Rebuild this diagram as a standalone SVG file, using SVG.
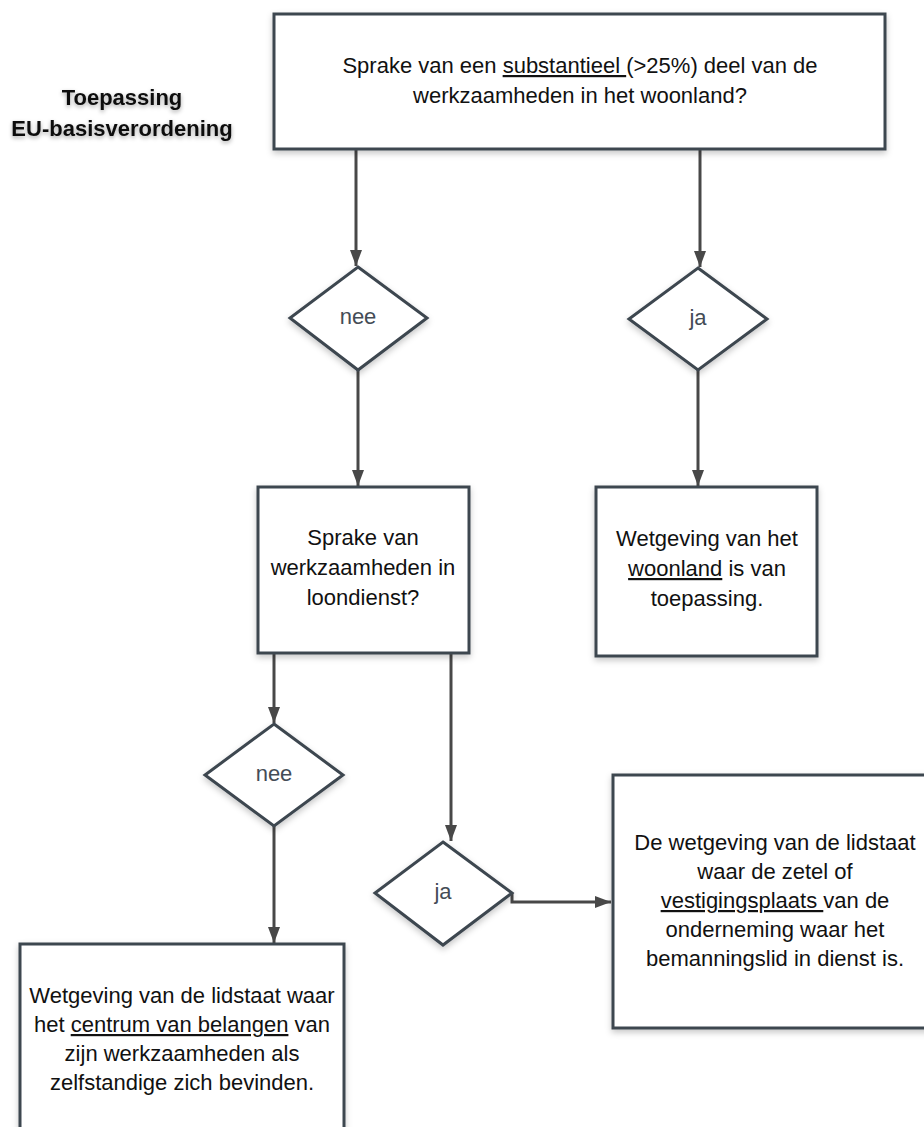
<svg xmlns="http://www.w3.org/2000/svg" width="924" height="1127" viewBox="0 0 924 1127">
  <style>
    .box { fill: #ffffff; stroke: #3d4650; stroke-width: 3; filter: url(#shadow); }
    .txt { font-family: "Liberation Sans", Arial, sans-serif; font-size: 22px; fill: #111111; text-anchor: middle; }
    .lbl { font-family: "Liberation Sans", Arial, sans-serif; font-size: 22px; fill: #444c56; text-anchor: middle; }
    .title { font-family: "Liberation Sans", Arial, sans-serif; font-size: 22px; font-weight: bold; fill: #111111; text-anchor: middle; filter: url(#tshadow); }
    .u { text-decoration: underline; }
    .conn { fill: none; stroke: #484848; stroke-width: 3; marker-end: url(#arrow); }
  </style>
  <defs>
    <filter id="shadow" x="-10%" y="-10%" width="120%" height="130%">
      <feDropShadow dx="0" dy="3" stdDeviation="3" flood-color="#000000" flood-opacity="0.22"/>
    </filter>
    <filter id="tshadow" x="-10%" y="-30%" width="120%" height="160%">
      <feDropShadow dx="0" dy="2" stdDeviation="2" flood-color="#000000" flood-opacity="0.35"/>
    </filter>
    <marker id="arrow" markerUnits="userSpaceOnUse" markerWidth="16" markerHeight="12" refX="16" refY="6" orient="auto">
      <path d="M0,0 L16,6 L0,12 Z" fill="#484848"/>
    </marker>
  </defs>

  <g id="title">
    <text class="title" x="122" y="105">Toepassing</text>
    <text class="title" x="122" y="136">EU-basisverordening</text>
  </g>

  <g id="connectors">
    <path class="conn" d="M356,149 V266"/>
    <path class="conn" d="M700,149 V267"/>
    <path class="conn" d="M358,370 V486"/>
    <path class="conn" d="M698,370 V486"/>
    <path class="conn" d="M274,653 V723"/>
    <path class="conn" d="M274,826 V943"/>
    <path class="conn" d="M451,653 V841"/>
    <path class="conn" d="M512,893 V902 H611"/>
  </g>

  <g id="q1">
    <rect class="box" x="274" y="14" width="611" height="135"/>
    <text class="txt" x="580" y="73">Sprake van een <tspan class="u">substantieel </tspan>(&gt;25%) deel van de</text>
    <text class="txt" x="580" y="103">werkzaamheden in het woonland?</text>
  </g>

  <g id="d-nee1">
    <polygon class="box" points="358,267 427,318 358,370 290,318"/>
    <text class="lbl" x="358" y="324">nee</text>
  </g>

  <g id="d-ja1">
    <polygon class="box" points="698,268 767,319 698,370 629,319"/>
    <text class="lbl" x="698" y="325">ja</text>
  </g>

  <g id="q2">
    <rect class="box" x="258" y="487" width="211" height="166"/>
    <text class="txt" x="363" y="545">Sprake van</text>
    <text class="txt" x="363" y="575">werkzaamheden in</text>
    <text class="txt" x="363" y="605">loondienst?</text>
  </g>

  <g id="r-woonland">
    <rect class="box" x="596" y="487" width="221" height="169"/>
    <text class="txt" x="707" y="546">Wetgeving van het</text>
    <text class="txt" x="707" y="576"><tspan class="u">woonland</tspan> is van</text>
    <text class="txt" x="707" y="606">toepassing.</text>
  </g>

  <g id="d-nee2">
    <polygon class="box" points="274,724 343,775 274,826 205,775"/>
    <text class="lbl" x="274" y="781">nee</text>
  </g>

  <g id="d-ja2">
    <polygon class="box" points="443,842 512,893 443,945 375,893"/>
    <text class="lbl" x="443" y="899">ja</text>
  </g>

  <g id="r-centrum">
    <rect class="box" x="20" y="944" width="324" height="210"/>
    <text class="txt" x="182" y="1003">Wetgeving van de lidstaat waar</text>
    <text class="txt" x="182" y="1032">het <tspan class="u">centrum van belangen</tspan> van</text>
    <text class="txt" x="182" y="1061">zijn werkzaamheden als</text>
    <text class="txt" x="182" y="1090">zelfstandige zich bevinden.</text>
  </g>

  <g id="r-zetel">
    <rect class="box" x="613" y="775" width="324" height="253"/>
    <text class="txt" x="775" y="850">De wetgeving van de lidstaat</text>
    <text class="txt" x="775" y="879">waar de zetel of</text>
    <text class="txt" x="775" y="908"><tspan class="u">vestigingsplaats </tspan>van de</text>
    <text class="txt" x="775" y="937">onderneming waar het</text>
    <text class="txt" x="775" y="966">bemanningslid in dienst is.</text>
  </g>
</svg>
